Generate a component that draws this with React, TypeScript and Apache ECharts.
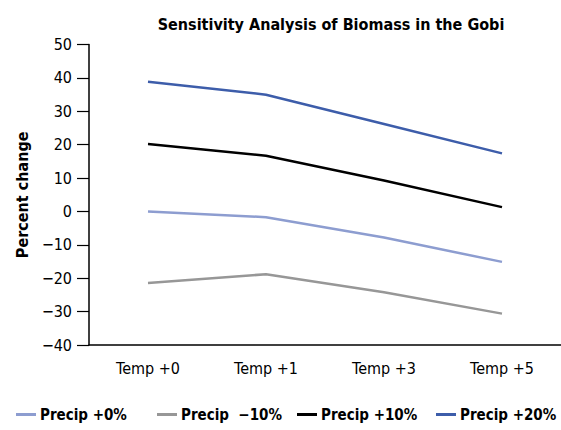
import React, { useEffect, useRef } from "react";
import * as echarts from "echarts";

const categories = ["Temp +0", "Temp +1", "Temp +3", "Temp +5"];
const seriesNames = ["Precip +0%", "Precip  \u221210%", "Precip +10%", "Precip +20%"];
const precip0 = [0, -1.7, -7.8, -15.1];
const precipMinus10 = [-21.4, -18.8, -24.2, -30.6];
const precip10 = [20.2, 16.7, 9.3, 1.3];
const precip20 = [38.9, 35.0, 26.2, 17.4];
const seriesColors = ["#8D9DD0", "#979797", "#000000", "#3D5DAA"];
const legendLefts = [16, 157, 297, 436];

const FONT = "'DejaVu Sans Condensed', 'DejaVu Sans', sans-serif";

export default function App() {
  const ref = useRef<HTMLDivElement>(null);
  useEffect(() => {
    if (!ref.current) return;
    const chart = echarts.init(ref.current, null, { renderer: "svg" });
    const data = [precip0, precipMinus10, precip10, precip20];
    chart.setOption({
      animation: false,
      title: {
        text: "Sensitivity Analysis of Biomass in the Gobi",
        left: 326,
        textAlign: "center",
        top: 11,
        textStyle: { fontFamily: FONT, fontWeight: "bold", fontSize: 16, color: "#000" },
      },
      grid: { left: 89, right: 0, top: 44.6, bottom: 85, containLabel: false },
      legend: seriesNames.map((name, i) => ({
        left: legendLefts[i],
        top: 407,
        padding: 0,
        icon: "rect",
        itemWidth: 20,
        itemHeight: 3,
        textStyle: { fontFamily: FONT, fontWeight: "bold", fontSize: 15, color: "#000", padding: [0, 0, 0, -1] },
        data: [name],
      })),
      xAxis: {
        type: "category",
        data: categories,
        boundaryGap: true,
        axisLine: { onZero: false, lineStyle: { color: "#000", width: 1.5 } },
        axisTick: { alignWithLabel: true, length: 9, lineStyle: { color: "#000", width: 1.2 } },
        axisLabel: { fontFamily: FONT, fontSize: 16, color: "#000", margin: 15 },
      },
      yAxis: {
        type: "value",
        min: -40,
        max: 50,
        interval: 10,
        name: "Percent change",
        nameLocation: "middle",
        nameRotate: 90,
        nameGap: 56,
        nameTextStyle: { fontFamily: FONT, fontWeight: "bold", fontSize: 16, color: "#000" },
        axisLine: { show: true, lineStyle: { color: "#000", width: 1.5 } },
        axisTick: { show: true, length: 12, lineStyle: { color: "#000", width: 1.2 } },
        splitLine: { show: false },
        axisLabel: {
          fontFamily: FONT,
          fontSize: 16,
          color: "#000",
          margin: 17,
          formatter: (v: number) => (v < 0 ? "\u2212" + Math.abs(v) : String(v)),
        },
      },
      series: seriesNames.map((name, i) => ({
        name,
        type: "line",
        data: data[i],
        symbol: "none",
        color: seriesColors[i],
        lineStyle: { color: seriesColors[i], width: 2.5 },
      })),
    });
    return () => chart.dispose();
  }, []);
  return <div ref={ref} style={{ width: 561, height: 430, position: "absolute", left: 0, top: 0 }} />;
}
